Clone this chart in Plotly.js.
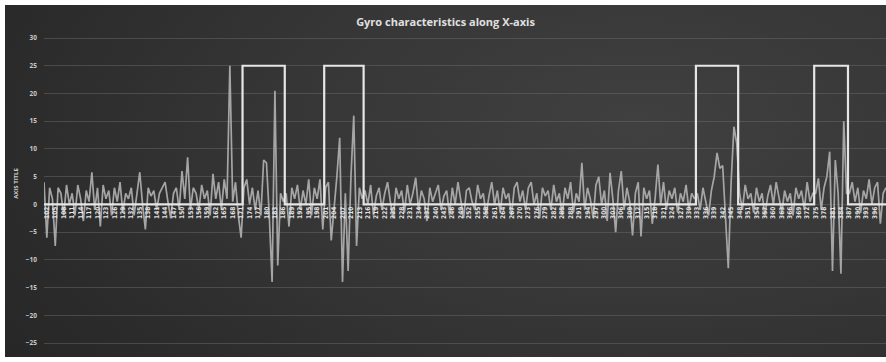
<!DOCTYPE html>
<html>
<head>
<meta charset="utf-8">
<script src="https://cdn.plot.ly/plotly-3.0.1.min.js"></script>
<style>
  html, body { margin:0; padding:0; background:#ffffff; width:886px; height:362px; overflow:hidden; }
  #panel { position:absolute; left:5px; top:5px; width:881px; height:352px;
    background: radial-gradient(ellipse 90% 120% at 72% 35%, #404040 0%, #363636 45%, #2b2b2b 80%, #262626 100%); }
  #chart { width:881px; height:352px; }
</style>
</head>
<body>
<div id="panel"><div id="chart"></div></div>
<script>
// Gyro reading along X-axis (noisy grey series), one value per sample
const gyroX = [
  4, -6, 3, 1, -7.5, 3, 2, -2, 3.5, 0,
  2, -2, 3.5, 1, -3, 2.5, 0.5, 5.8, -1, 3,
  -4, 3.5, 1, 2.5, -2, 3, 0.5, 4, -1.5, 2,
  1, 3, -2, 2.5, 5.8, 0, -4.5, 3, 1.5, 2.5,
  -1, 2, 3, 4, 0.5, -2.5, 2, 3, -1, 6,
  1, 8.5, -1, 3, 2, -1, 3.5, 1, 2.5, -2,
  5.5, 1, 4, -1, 4.5, 1, 25, 0.5, 4, -2,
  -6, 3, 4.5, 0, 3, -1, 2.5, -2, 8, 7.5,
  -2, -14, 20.5, -11, 2, 0.5, 2, -4, 3, 1,
  3.5, -1, 2.5, 0, 4.5, -2, 3, 1, 4.5, -4.5,
  3, 4, -6.5, -1, 5, 12, -14, 2, -12, 5,
  16, -7.5, 3, 1, 2.5, 0, 3.5, -2, 1.5, 3,
  -1, 2, 4, 0.5, -2.5, 3, 1, 2.5, -1.5, 3.5,
  0, 2, 4.8, -1, 2.5, 1, -3, 3, 0.5, 2,
  3.5, -1, 1.5, 2.5, -2, 3, 0, 4, 1, -2.5,
  2.5, 3, 0.5, -1, 3.5, 1, 2, -2, 1.5, 4,
  0, 2.5, -1.5, 3, 1, 2, -2, 3, 4, 0.5,
  2.5, -1, 3, 4, 0, 2, -2.5, 3, 1.5, 2.5,
  -1, 3.5, 0.5, 2, -2, 3, 1, 4, -1.5, 2,
  0.5, 7.5, -1, 3, 1, -2.5, 3.5, 5, 0, 2.5,
  -3, 5.7, 1, -5, 2.5, 6, -1, 3, 0.5, -5.6,
  2, 4, -5.8, 3, 1, 2.5, -3.5, 1, 7.2, 0,
  4, -1, 2.5, 1, 3, -1.5, 2, 0.5, 3.5, -1,
  2, 1, 2, -1, 3, 0.5, -2, 2.5, 5, 9.3,
  6.5, 7, -3, -11.5, 4, 14, 11, 2, -1, 3.5,
  1, 2, -1.5, 3, 0.5, 2, -2, 1.5, 3.5, 0,
  4, 1, -1.5, 2.5, 0.5, 2, -2, 3, 1, 2.5,
  -1, 4, 0.5, 2, 2, 4.7, -1, 3, 5, 9.5,
  -12, 8, 2, -12.5, 15, 2, 2, 4, 0.5, 3,
  -1.5, 2.5, 1, 4.5, 0, 3, 4, -3.5, 2, 3
];
// Rotation flag (white square wave): corner points only
const flagSample = [0, 70.5, 70.5, 85.5, 85.5, 99.5, 99.5, 113.5, 113.5, 231.5, 231.5, 246.5, 246.5, 273.5, 273.5, 285.5, 285.5, 299];
const flagValue  = [0, 0, 25, 25, 0, 0, 25, 25, 0, 0, 25, 25, 0, 0, 25, 25, 0, 0];
const yTicks = [-25, -20, -15, -10, -5, 0, 5, 10, 15, 20, 25, 30];

const sampleIdx = gyroX.map((_, i) => i);
const labelPos = sampleIdx.filter(i => i % 3 === 1);
const labelText = labelPos.map(i => String(i + 101));

const yMin = -27.52, yMax = 35.05;

const traces = [
  { x: sampleIdx, y: gyroX, type: 'scatter', mode: 'lines',
    line: { color: 'rgba(175,175,175,0.92)', width: 1.7 }, hoverinfo: 'skip' },
  { x: flagSample, y: flagValue, type: 'scatter', mode: 'lines',
    line: { color: '#e6e6e6', width: 2.2 }, hoverinfo: 'skip' }
];

const layout = {
  width: 881, height: 352,
  margin: { l: 39, r: 0, t: 5, b: 0 },
  paper_bgcolor: 'rgba(0,0,0,0)', plot_bgcolor: 'rgba(0,0,0,0)',
  showlegend: false,
  title: { text: 'Gyro characteristics along X-axis', x: 0.5, xanchor: 'center',
           y: 0.952, yanchor: 'middle', yref: 'container',
           font: { family: 'Open Sans, sans-serif', size: 11, color: '#e0e0e0', weight: 'bold' } },
  xaxis: {
    range: [0, 299], anchor: 'free', position: (0 - yMin) / (yMax - yMin),
    tickmode: 'array', tickvals: labelPos, ticktext: labelText,
    tickangle: -90, tickfont: { family: 'Liberation Sans Narrow, DejaVu Sans Condensed, sans-serif', size: 6.5, color: '#e4e4e4', weight: 'bold' },
    showgrid: false, zeroline: false, showline: false, ticks: ''
  },
  yaxis: {
    range: [yMin, yMax], tickmode: 'array', tickvals: yTicks,
    tickfont: { family: 'Open Sans, sans-serif', size: 6.5, color: '#c8c8c8', weight: 'bold' },
    gridcolor: 'rgba(110,110,110,0.45)', gridwidth: 1, zeroline: false, showline: false,
    ticks: '', ticklabelstandoff: 6,
    title: { text: 'AXIS TITLE', standoff: 6,
             font: { family: 'Open Sans, sans-serif', size: 6, color: '#d0d0d0', weight: 'bold' } }
  }
};

Plotly.newPlot('chart', traces, layout, { displayModeBar: false, staticPlot: true });
</script>
</body>
</html>
